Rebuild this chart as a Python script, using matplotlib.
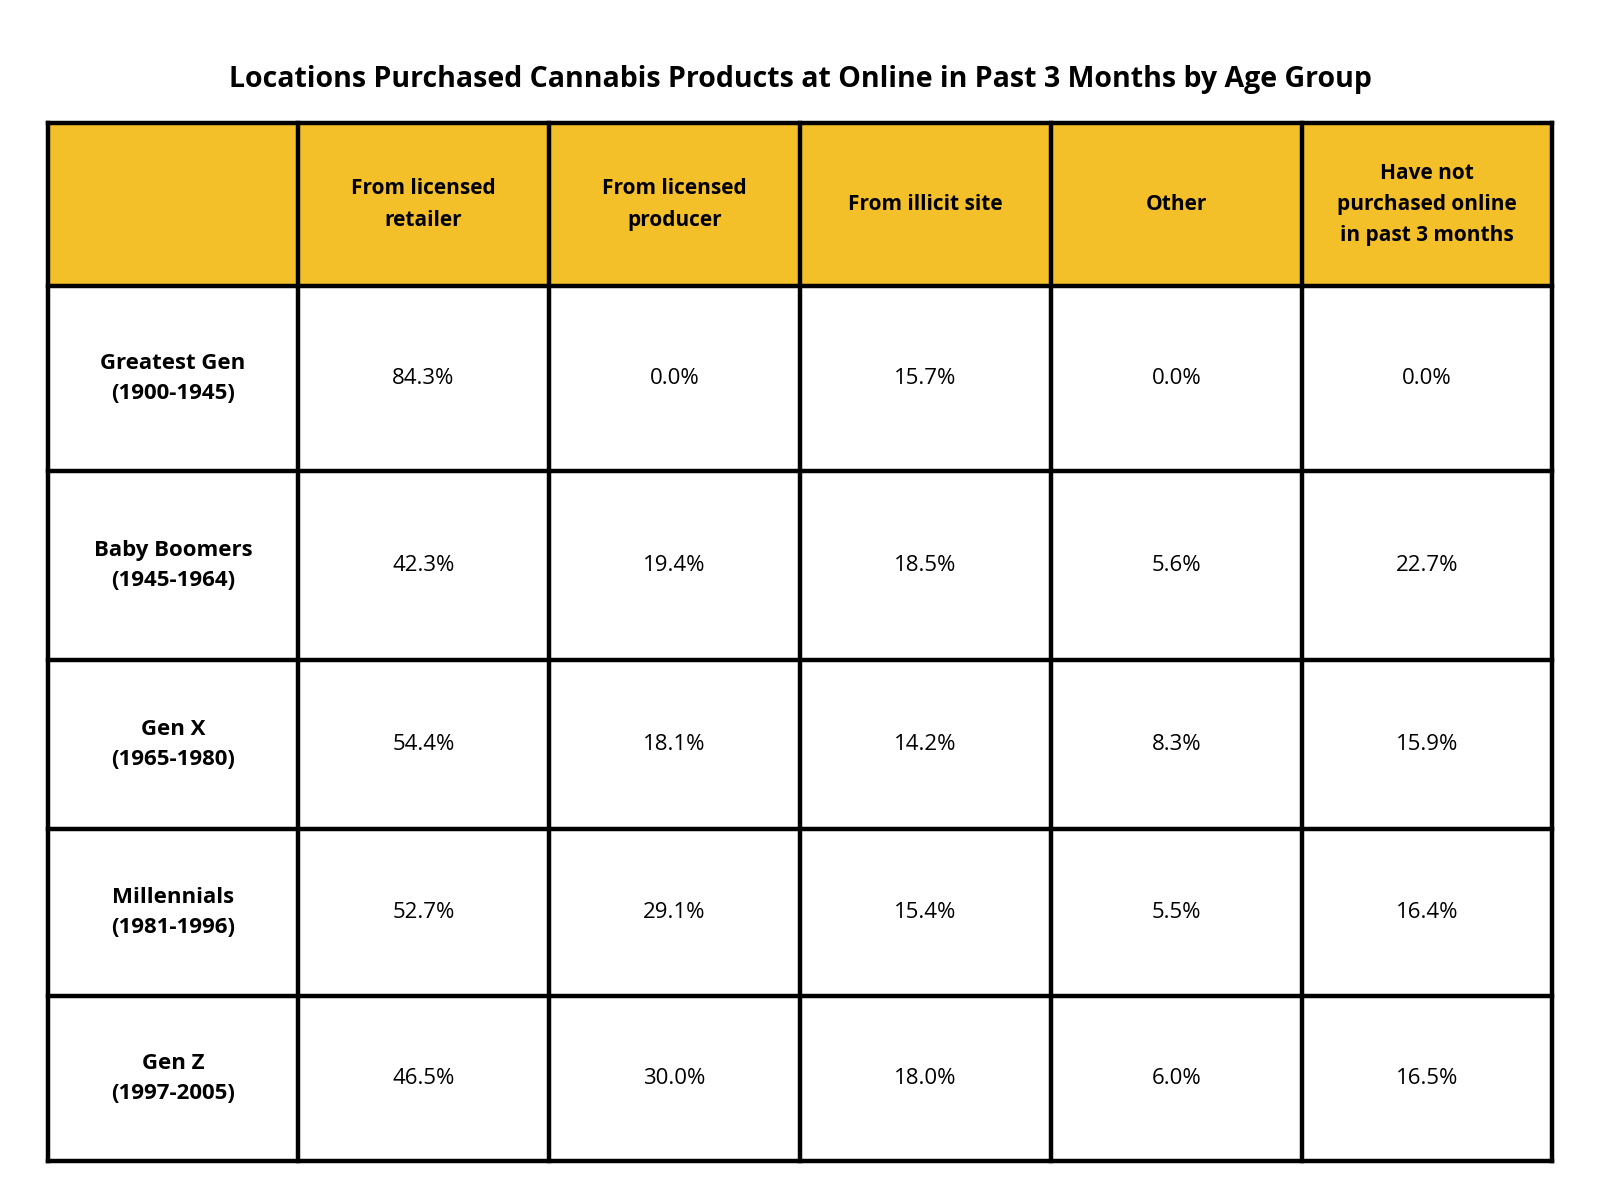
import matplotlib.pyplot as plt
from matplotlib.patches import Rectangle

title = "Locations Purchased Cannabis Products at Online in Past 3 Months by Age Group"
columns = ["", "From licensed\nretailer", "From licensed\nproducer", "From illicit site", "Other",
           "Have not\npurchased online\nin past 3 months"]
groups = ["Greatest Gen\n(1900-1945)", "Baby Boomers\n(1945-1964)", "Gen X\n(1965-1980)",
          "Millennials\n(1981-1996)", "Gen Z\n(1997-2005)"]
licensed_retailer = [84.3, 42.3, 54.4, 52.7, 46.5]
licensed_producer = [0.0, 19.4, 18.1, 29.1, 30.0]
illicit_site = [15.7, 18.5, 14.2, 15.4, 18.0]
other = [0.0, 5.6, 8.3, 5.5, 6.0]
not_purchased = [0.0, 22.7, 15.9, 16.4, 16.5]

plt.rcParams['font.family'] = ['Open Sans', 'DejaVu Sans']
fig = plt.figure(figsize=(16, 12), dpi=100)
ax = fig.add_axes([0, 0, 1, 1])
ax.set_xlim(0, 1600)
ax.set_ylim(1200, 0)
ax.axis("off")

ax.text(800, 80, title, ha="center", va="center", fontsize=20.5, fontweight="bold")

x_edges = [48, 298, 549, 800, 1051, 1302, 1552]
y_edges = [123, 286, 471, 660, 829, 996, 1161]

yellow = "#F4C02A"
ax.add_patch(Rectangle((x_edges[0], y_edges[0]), x_edges[-1] - x_edges[0], y_edges[1] - y_edges[0],
                       facecolor=yellow, edgecolor="none"))
for x in x_edges:
    ax.plot([x, x], [y_edges[0], y_edges[-1]], color="black", lw=3.2, solid_capstyle="projecting")
for y in y_edges:
    ax.plot([x_edges[0], x_edges[-1]], [y, y], color="black", lw=3.2, solid_capstyle="projecting")

def cx(i):
    return (x_edges[i] + x_edges[i + 1]) / 2

def cy(j):
    return (y_edges[j] + y_edges[j + 1]) / 2

for i, c in enumerate(columns):
    ax.text(cx(i), cy(0), c, ha="center", va="center", fontsize=15, fontweight="bold", linespacing=1.65)

series = [licensed_retailer, licensed_producer, illicit_site, other, not_purchased]
for j, g in enumerate(groups):
    ax.text(cx(0), cy(j + 1), g, ha="center", va="center", fontsize=16, fontweight="bold", linespacing=1.6)
    for i, s in enumerate(series):
        ax.text(cx(i + 1), cy(j + 1), f"{s[j]:.1f}%", ha="center", va="center", fontsize=16)

fig.savefig("out.png", dpi=100, facecolor="white")
